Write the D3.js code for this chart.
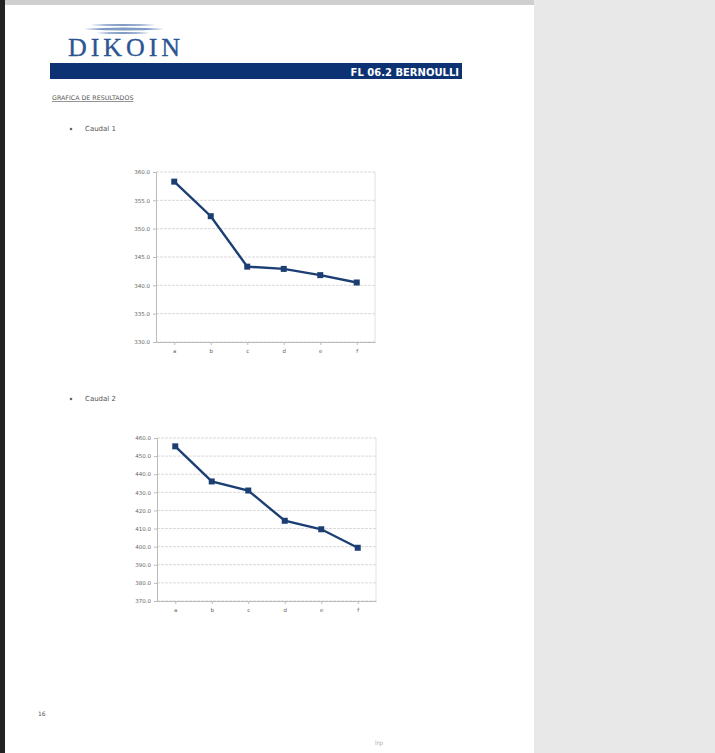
<!DOCTYPE html>
<html><head><meta charset="utf-8">
<script src="https://cdn.jsdelivr.net/npm/d3@7"></script>
<style>body{margin:0;padding:0;background:#e8e8e8;overflow:hidden}</style>
</head><body>
<script>
// ---- data ----
const categories = ["a","b","c","d","e","f"];
const caudal1 = [358.3, 352.2, 343.3, 342.9, 341.8, 340.5];
const caudal2 = [455.4, 436.0, 431.0, 414.3, 409.6, 399.4];
const ticks1 = [330, 335, 340, 345, 350, 355, 360];
const ticks2 = [370, 380, 390, 400, 410, 420, 430, 440, 450, 460];
const headerTitle = "FL 06.2 BERNOULLI";
const sectionTitle = "GRAFICA DE RESULTADOS";
const chartTitles = ["Caudal 1", "Caudal 2"];

const W = 715, H = 753;
const svg = d3.select("body").append("svg").attr("width", W).attr("height", H);

// page background
svg.append("rect").attr("x",0).attr("y",0).attr("width",W).attr("height",H).attr("fill","#e8e8e8");
svg.append("rect").attr("x",0).attr("y",0).attr("width",534).attr("height",H).attr("fill","#ffffff");
svg.append("rect").attr("x",0).attr("y",0).attr("width",534).attr("height",5).attr("fill","#cfcfcf");
svg.append("rect").attr("x",0).attr("y",0).attr("width",5).attr("height",H).attr("fill","#222");

// logo swoosh (lens shapes)
const logo = svg.append("g");
[[90,25,156,2.2],[84,29,164,3.2],[96,33,150,2.0]].forEach(([xa,yc,xb,h])=>{
  const mx = (xa+xb)/2;
  logo.append("path")
    .attr("d",`M${xa},${yc} Q${mx},${yc-h} ${xb},${yc} Q${mx},${yc+h} ${xa},${yc} Z`)
    .attr("fill","#7f9bc6");
});
logo.append("text").attr("x",68).attr("y",56).text("DIKOIN")
  .attr("font-family","Liberation Serif, DejaVu Serif, serif").attr("font-size",26)
  .attr("fill","#2b5592").attr("textLength",112).attr("stroke","#2b5592").attr("stroke-width",0.3);

// header bar
svg.append("rect").attr("x",50).attr("y",63).attr("width",412).attr("height",16).attr("fill","#0d3274");
svg.append("text").attr("x",459).attr("y",75.5).attr("text-anchor","end").text(headerTitle)
  .attr("font-family","DejaVu Sans, sans-serif").attr("font-weight","bold").attr("font-size",10)
  .attr("fill","#fff");

// section heading
svg.append("text").attr("x",52).attr("y",100).text(sectionTitle)
  .attr("font-family","DejaVu Sans, sans-serif").attr("font-size",6.3).attr("fill","#555")
  .attr("text-decoration","underline");

// bullets
[131, 401].forEach((y,i)=>{
  svg.append("circle").attr("cx",71).attr("cy",y-2).attr("r",1.3).attr("fill","#666");
  svg.append("text").attr("x",85).attr("y",y).text(chartTitles[i])
    .attr("font-family","DejaVu Sans, sans-serif").attr("font-size",7).attr("fill","#555");
});

// page number etc.
svg.append("text").attr("x",38).attr("y",716).text("16")
  .attr("font-family","DejaVu Sans, sans-serif").attr("font-size",6).attr("fill","#555");
svg.append("text").attr("x",375).attr("y",745).text("lrp")
  .attr("font-family","DejaVu Sans, sans-serif").attr("font-size",6).attr("fill","#aaa");

function drawChart(vals, ticks, x0, x1, y0, y1){
  const g = svg.append("g");
  const x = d3.scalePoint().domain(categories).range([x0, x1]).padding(0.5);
  const y = d3.scaleLinear().domain([ticks[0], ticks[ticks.length-1]]).range([y1, y0]);
  // grid
  g.selectAll("line.grid").data(ticks).join("line")
    .attr("x1",x0).attr("x2",x1).attr("y1",d=>y(d)).attr("y2",d=>y(d))
    .attr("stroke","#cfcfcf").attr("stroke-width",0.8).attr("stroke-dasharray","3,1");
  // right border
  g.append("line").attr("x1",x1).attr("x2",x1).attr("y1",y0).attr("y2",y1)
    .attr("stroke","#d8d8d8").attr("stroke-width",0.8);
  // y axis
  const ya = g.append("g").attr("transform",`translate(${x0},0)`)
    .call(d3.axisLeft(y).tickValues(ticks).tickSize(3).tickFormat(d3.format(".1f")));
  ya.select(".domain").attr("stroke","#bbb");
  ya.selectAll(".tick line").attr("stroke","#bbb");
  ya.selectAll("text").attr("font-family","DejaVu Sans, sans-serif").attr("font-size",5.5).attr("fill","#666");
  // x axis
  const xa = g.append("g").attr("transform",`translate(0,${y1})`)
    .call(d3.axisBottom(x).tickSize(3).tickSizeOuter(0));
  xa.select(".domain").attr("stroke","#bbb");
  xa.selectAll(".tick line").attr("stroke","#bbb");
  xa.selectAll("text").attr("font-family","DejaVu Sans, sans-serif").attr("font-size",5.5).attr("fill","#666").attr("dy","0.9em");
  // line
  const line = d3.line().x((d,i)=>x(categories[i])).y(d=>y(d));
  g.append("path").datum(vals).attr("d",line).attr("fill","none")
    .attr("stroke","#1c3f73").attr("stroke-width",2.4);
  g.selectAll("rect.pt").data(vals).join("rect")
    .attr("x",(d,i)=>x(categories[i])-3).attr("y",d=>y(d)-3)
    .attr("width",6).attr("height",6).attr("fill","#1c3f73");
}
drawChart(caudal1, ticks1, 156, 375, 172, 342);
drawChart(caudal2, ticks2, 157, 376, 438, 601);
</script>
</body></html>
